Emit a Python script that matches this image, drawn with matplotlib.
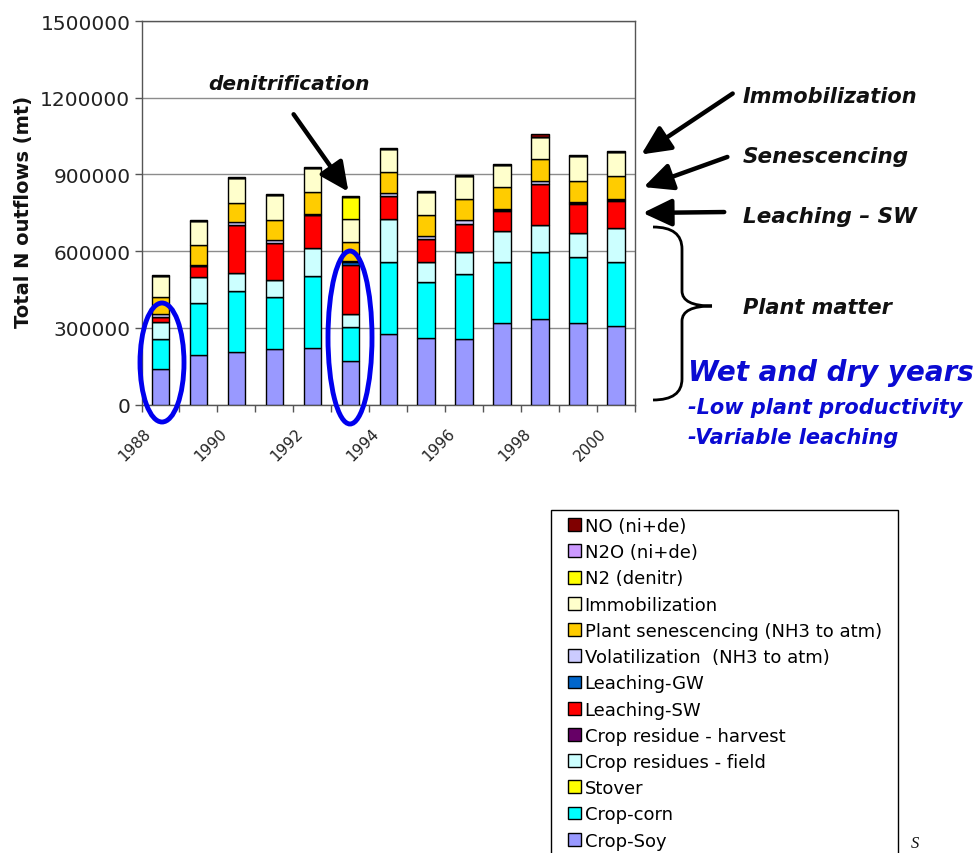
import numpy as np
import matplotlib
matplotlib.use('Agg')
import matplotlib.pyplot as plt
from matplotlib.patches import Patch, Ellipse, FancyArrowPatch, PathPatch, Rectangle
from matplotlib.path import Path
import matplotlib.transforms as mtransforms

W, H = 979, 854

years = list(range(1988, 2001))
tick_labels = [str(y) if y % 2 == 0 else '' for y in years]

# N outflows by component (mt), stacked bottom -> top
crop_soy = [140200, 192400, 205400, 216000, 222600, 170000, 274900, 261900, 258000, 318100, 333800, 318100, 307500]
crop_corn = [115000, 203000, 239500, 205400, 281200, 131200, 283900, 216000, 252500, 238400, 264300, 258000, 249000]
stover = [0] * 13
residues_field = [68000, 102100, 68300, 66800, 107600, 52200, 167700, 80900, 85200, 120200, 102100, 94200, 133500]
residue_harvest = [0] * 13
leach_sw = [19600, 44400, 189700, 144100, 128000, 192400, 89100, 89100, 111100, 78500, 163800, 115100, 104500]
leach_gw = [0, 0, 0, 0, 3000, 12000, 0, 0, 0, 5000, 0, 4000, 6000]
volatilization = [12000, 5000, 10000, 10000, 4000, 4000, 12000, 12000, 14000, 4000, 12000, 3000, 4000]
senescencing = [65500, 78500, 76200, 78500, 85200, 72000, 83600, 81300, 82500, 85200, 82500, 82500, 89100]
immobilization = [82500, 91500, 98200, 98200, 91500, 91900, 86400, 91500, 91500, 87600, 88000, 96600, 94200]
n2 = [0, 0, 0, 0, 0, 84800, 0, 0, 0, 0, 0, 0, 0]
n2o = [0] * 13
no = [5000, 4000, 4000, 4000, 4000, 4000, 4000, 4000, 4000, 4000, 12000, 4000, 4000]

series = [
    ('Crop-Soy', crop_soy, '#9999FF'),
    ('Crop-corn', crop_corn, '#00FFFF'),
    ('Stover', stover, '#FFFF00'),
    ('Crop residues - field', residues_field, '#CCFFFF'),
    ('Crop residue - harvest', residue_harvest, '#660066'),
    ('Leaching-SW', leach_sw, '#FF0000'),
    ('Leaching-GW', leach_gw, '#0066CC'),
    ('Volatilization  (NH3 to atm)', volatilization, '#CCCCFF'),
    ('Plant senescencing (NH3 to atm)', senescencing, '#FFCC00'),
    ('Immobilization', immobilization, '#FFFFCC'),
    ('N2 (denitr)', n2, '#FFFF00'),
    ('N2O (ni+de)', n2o, '#CC99FF'),
    ('NO (ni+de)', no, '#800000'),
]

plt.rcParams['font.family'] = 'DejaVu Sans'

fig = plt.figure(figsize=(W / 100, H / 100), dpi=100)


def fx(x):
    return x / W


def fy(y):
    return 1 - y / H


ax = fig.add_axes([fx(141.5), fy(405.5), (635 - 141.5) / W, (405.5 - 22) / H])

x = np.arange(len(years))
bottom = np.zeros(len(years))
for name, vals, col in series:
    ax.bar(x, vals, width=0.46, bottom=bottom, color=col, edgecolor='black',
           linewidth=1.0, zorder=3)
    bottom += np.array(vals)

ax.set_xlim(-0.5, len(years) - 0.5)
ax.set_ylim(0, 1500000)
ax.set_yticks(np.arange(0, 1500001, 300000))
ax.set_yticklabels([str(v) for v in range(0, 1500001, 300000)], fontsize=14.5, color='#222222')
ax.yaxis.grid(True, color='#8c8c8c', linewidth=1.0, zorder=0)
ax.tick_params(axis='y', length=5, width=1, color='#555555', pad=3)

# category boundaries carry the tick marks, labels sit under the bars
ax.set_xticks(np.arange(-0.5, len(years), 1.0), minor=True)
ax.set_xticks(x)
ax.set_xticklabels(tick_labels, rotation=45, ha='right', va='center',
                   rotation_mode='anchor', fontsize=11, color='#222222')
ax.tick_params(axis='x', which='major', length=0, pad=0)
ax.tick_params(axis='x', which='minor', length=5, width=1, color='#555555')
offset = mtransforms.ScaledTranslation(-12 / 100, -26 / 100, fig.dpi_scale_trans)
for lbl in ax.get_xticklabels():
    lbl.set_transform(lbl.get_transform() + offset)

for sp in ax.spines.values():
    sp.set_color('#555555')
    sp.set_linewidth(1.0)

fig.text(fx(24), fy(212), 'Total N outflows (mt)', rotation=90, fontsize=14,
         fontweight='bold', ha='center', va='center', color='#111111')

# legend, top entry first; its box runs on past the bottom edge
handles = [Patch(facecolor=col, edgecolor='black', linewidth=1.0) for _, _, col in series[::-1]]
labels = [name for name, _, _ in series[::-1]]
leg = fig.legend(handles, labels, loc='upper left', bbox_to_anchor=(fx(568), fy(518)),
                 fontsize=13, frameon=False,
                 handlelength=0.72, handleheight=0.72, handletextpad=0.2,
                 labelspacing=0.455, borderpad=0, borderaxespad=0)
fig.add_artist(Rectangle((fx(551), fy(870)), (898 - 551) / W, (870 - 511) / H,
                         transform=fig.transFigure, facecolor='none',
                         edgecolor='black', lw=1.0))

# annotations
bi = dict(fontweight='bold', style='italic', color='#111111')
fig.text(fx(289), fy(85), 'denitrification', fontsize=14.5, ha='center', va='center', **bi)
fig.text(fx(743), fy(97), 'Immobilization', fontsize=15, ha='left', va='center', **bi)
fig.text(fx(743), fy(157), 'Senescencing', fontsize=15.5, ha='left', va='center', **bi)
fig.text(fx(743), fy(217), 'Leaching \u2013 SW', fontsize=15.5, ha='left', va='center', **bi)
fig.text(fx(743), fy(308), 'Plant matter', fontsize=15, ha='left', va='center', **bi)

blue = '#0a0ad2'
fig.text(fx(688), fy(373), 'Wet and dry years', fontsize=20, ha='left', va='center',
         fontweight='bold', style='italic', color=blue)
fig.text(fx(688), fy(408), '-Low plant productivity', fontsize=15, ha='left', va='center',
         fontweight='bold', style='italic', color=blue)
fig.text(fx(688), fy(438), '-Variable leaching', fontsize=15, ha='left', va='center',
         fontweight='bold', style='italic', color=blue)

arrows = [((292, 113), (350, 195)),
          ((735, 93), (639, 157)),
          ((730, 157), (641, 189)),
          ((727, 213), (640, 214))]
for (x0, y0), (x1, y1) in arrows:
    fig.add_artist(FancyArrowPatch((fx(x0), fy(y0)), (fx(x1), fy(y1)),
                                   transform=fig.transFigure,
                                   arrowstyle='-|>,head_length=0.8,head_width=0.38',
                                   mutation_scale=22, lw=3.2, color='black'))

# curly brace beside the plant matter part of the stack
brace_pts = [(653, 228), (682, 228), (682, 250), (682, 292),
             (682, 307), (712, 307), (682, 307), (682, 322),
             (682, 380), (682, 401), (653, 401)]
codes = [Path.MOVETO, Path.CURVE3, Path.CURVE3, Path.LINETO,
         Path.CURVE3, Path.CURVE3, Path.CURVE3, Path.CURVE3,
         Path.LINETO, Path.CURVE3, Path.CURVE3]
brace = Path([(fx(a), fy(b)) for a, b in brace_pts], codes)
fig.add_artist(PathPatch(brace, transform=fig.transFigure, facecolor='none',
                         edgecolor='black', lw=2.0))

# circled years
for cx, cy, ew, eh in [(162, 363.5, 44, 119), (350, 338.5, 44, 173)]:
    fig.add_artist(Ellipse((fx(cx), fy(cy)), ew / W, eh / H, transform=fig.transFigure,
                           facecolor='none', edgecolor='#0000ee', lw=3.5))

fig.text(fx(911), fy(852), 'S', fontsize=12, family='Liberation Serif', style='italic',
         ha='left', va='bottom', color='#111111')

fig.savefig('out.png', dpi=100)
